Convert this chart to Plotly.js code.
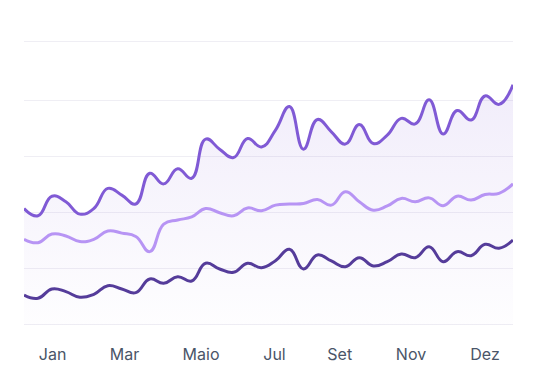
<!DOCTYPE html>
<html>
<head>
<meta charset="utf-8">
<script src="https://cdn.plot.ly/plotly-3.0.1.min.js"></script>
<style>
  html, body { margin: 0; padding: 0; background: #ffffff; }
  #chart { width: 539px; height: 392px; }
</style>
</head>
<body>
<div id="chart"></div>
<script>
// Data (36 samples across the year)
const seriesTop = [20.8, 19.5, 23.0, 22.0, 19.8, 20.8, 24.4, 23.2, 21.6, 27.1, 25.2, 27.9, 26.2, 33.2, 31.4, 29.9, 33.3, 31.8, 34.8, 39.0, 31.4, 36.7, 34.5, 32.3, 35.8, 32.4, 33.9, 36.9, 35.9, 40.2, 34.1, 38.3, 36.6, 40.9, 39.4, 42.9];
const seriesMid = [15.3, 14.7, 16.25, 15.9, 14.9, 15.3, 16.8, 16.4, 15.8, 13.1, 18.0, 18.75, 19.3, 20.8, 20.05, 19.5, 20.9, 20.4, 21.4, 21.6, 21.7, 22.4, 21.4, 23.8, 22.0, 20.5, 21.25, 22.6, 22.0, 22.7, 21.3, 23.0, 22.3, 23.3, 23.5, 25.2];
const seriesLow = [5.36, 4.77, 6.43, 5.95, 4.95, 5.48, 7.02, 6.43, 5.77, 8.21, 7.45, 8.63, 7.86, 11.02, 10.0, 9.41, 11.02, 10.23, 11.48, 13.52, 10.0, 12.5, 11.43, 10.41, 12.02, 10.54, 11.30, 12.68, 12.02, 13.98, 11.30, 13.09, 12.38, 14.41, 13.7, 15.18];
const tickLabels = ['Jan', 'Mar', 'Maio', 'Jul', 'Set', 'Nov', 'Dez'];
const tickPositions = [2.05, 7.2, 12.67, 17.93, 22.6, 27.7, 33.0];
const gridValues = [0, 10, 20, 30, 40, 50.7];

const xs = seriesTop.map((_, i) => i);

const traces = [
  {
    x: xs, y: seriesTop, type: 'scatter', mode: 'lines',
    line: { color: '#805ad5', width: 3, shape: 'spline', smoothing: 1.3 },
    fill: 'tozeroy',
    fillcolor: 'rgba(128,90,213,0.08)',
    fillgradient: {
      type: 'vertical',
      start: 0, stop: 43,
      colorscale: [[0, 'rgba(128,90,213,0.01)'], [1, 'rgba(128,90,213,0.11)']]
    },
    hoverinfo: 'skip'
  },
  {
    x: xs, y: seriesMid, type: 'scatter', mode: 'lines',
    line: { color: '#b794f4', width: 3, shape: 'spline', smoothing: 1.3 },
    hoverinfo: 'skip'
  },
  {
    x: xs, y: seriesLow, type: 'scatter', mode: 'lines',
    line: { color: '#553c9a', width: 3, shape: 'spline', smoothing: 1.3 },
    hoverinfo: 'skip'
  }
];

const layout = {
  width: 539, height: 392,
  margin: { l: 24, r: 26, t: 39, b: 65 },
  paper_bgcolor: '#ffffff', plot_bgcolor: '#ffffff',
  showlegend: false,
  font: { family: 'Inter, "Noto Sans", sans-serif', color: '#4a5568', size: 16 },
  xaxis: {
    range: [0, 35],
    tickmode: 'array', tickvals: tickPositions, ticktext: tickLabels,
    showgrid: false, zeroline: false, showline: false,
    ticks: '', ticklabelstandoff: 16,
    tickfont: { size: 16, color: '#4a5568' },
    fixedrange: true
  },
  yaxis: {
    range: [-0.36, 51.07],
    tickmode: 'array', tickvals: gridValues,
    showticklabels: false,
    showgrid: true, gridcolor: '#efeef4', gridwidth: 1,
    zeroline: false, showline: false, ticks: '',
    fixedrange: true
  }
};

Plotly.newPlot('chart', traces, layout, { displayModeBar: false, staticPlot: true });
</script>
</body>
</html>
